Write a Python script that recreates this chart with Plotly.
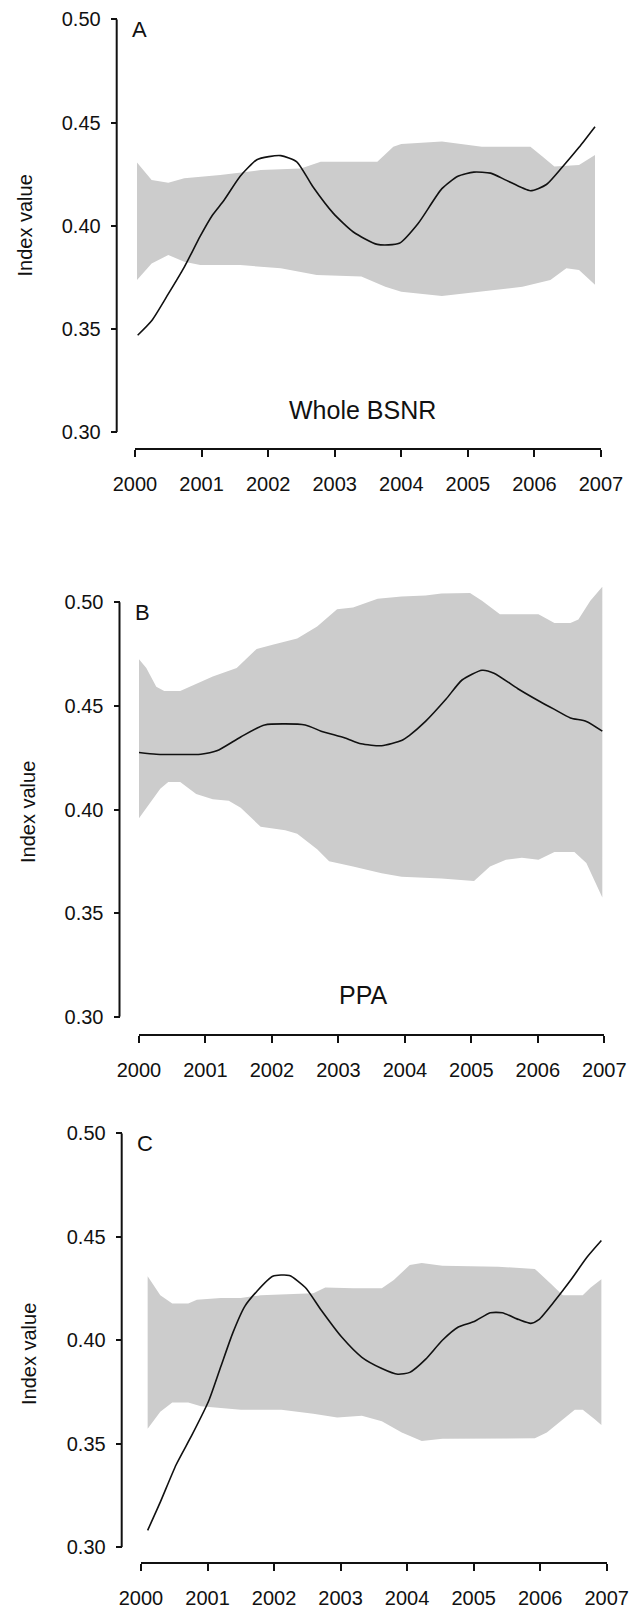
import plotly.graph_objects as go

W, H = 630, 1610

years = [2000, 2001, 2002, 2003, 2004, 2005, 2006, 2007]
year_labels = [str(y) for y in years]
yticks = [0.30, 0.35, 0.40, 0.45, 0.50]
ytick_labels = ["0.30", "0.35", "0.40", "0.45", "0.50"]

# ---- Panel A : Whole BSNR ----
a_line_x = [2000.04, 2000.25, 2000.50, 2000.74, 2000.98, 2001.16, 2001.34, 2001.58, 2001.83, 2002.01,
            2002.19, 2002.43, 2002.67, 2002.98, 2003.28, 2003.64, 2003.97, 2004.25, 2004.61, 2004.85,
            2005.09, 2005.34, 2005.58, 2005.94, 2006.18, 2006.42, 2006.67, 2006.91]
a_line_y = [0.347, 0.354, 0.367, 0.380, 0.395, 0.405, 0.4125, 0.424, 0.432, 0.4335,
            0.434, 0.431, 0.419, 0.406, 0.397, 0.391, 0.3915, 0.401, 0.418, 0.424,
            0.426, 0.4255, 0.422, 0.417, 0.420, 0.4285, 0.438, 0.448]
a_up_x = [2000.03, 2000.25, 2000.50, 2000.74, 2001.28, 2001.89, 2002.49, 2002.79, 2003.64, 2003.88,
          2004.00, 2004.61, 2005.21, 2005.94, 2006.12, 2006.30, 2006.67, 2006.91]
a_up_y = [0.4306, 0.4222, 0.4209, 0.423, 0.4246, 0.427, 0.4278, 0.431, 0.431, 0.4383,
          0.4396, 0.4408, 0.4383, 0.4383, 0.4335, 0.4287, 0.4295, 0.4343]
a_lo_x = [2000.03, 2000.25, 2000.50, 2000.74, 2000.98, 2001.58, 2002.19, 2002.73, 2003.40, 2003.76,
          2004.00, 2004.61, 2005.21, 2005.82, 2006.24, 2006.48, 2006.67, 2006.91]
a_lo_y = [0.3738, 0.3818, 0.3859, 0.3826, 0.381, 0.381, 0.3794, 0.3762, 0.3754, 0.3705,
          0.3681, 0.366, 0.3681, 0.3705, 0.3738, 0.3794, 0.3786, 0.3714]

# ---- Panel B : PPA ----
b_line_x = [2000.00, 2000.26, 2000.93, 2001.17, 2001.53, 2001.89, 2002.50, 2002.74, 2003.10, 2003.34,
            2003.65, 2003.95, 2004.07, 2004.31, 2004.62, 2004.86, 2005.16, 2005.34, 2005.70, 2006.01,
            2006.25, 2006.49, 2006.73, 2006.97]
b_line_y = [0.4275, 0.4267, 0.4267, 0.4283, 0.435, 0.4408, 0.4408, 0.4378, 0.4345, 0.4317,
            0.4308, 0.4333, 0.4358, 0.4425, 0.4533, 0.4625, 0.4672, 0.4658, 0.4583, 0.4525,
            0.4483, 0.4442, 0.4425, 0.4378]
b_up_x = [2000.00, 2000.11, 2000.26, 2000.38, 2000.62, 2000.93, 2001.11, 2001.47, 2001.77, 2002.01,
          2002.38, 2002.68, 2002.98, 2003.22, 2003.59, 2003.95, 2004.31, 2004.55, 2004.98, 2005.16,
          2005.43, 2006.01, 2006.25, 2006.49, 2006.61, 2006.79, 2006.97]
b_up_y = [0.4725, 0.4683, 0.4592, 0.4572, 0.4572, 0.4617, 0.4642, 0.4683, 0.4775, 0.4795,
          0.4825, 0.4883, 0.4967, 0.4975, 0.5017, 0.5028, 0.5033, 0.5042, 0.5045, 0.5008,
          0.4942, 0.4942, 0.49, 0.49, 0.4917, 0.5008, 0.5075]
b_lo_x = [2000.00, 2000.14, 2000.32, 2000.44, 2000.62, 2000.86, 2001.11, 2001.35, 2001.53, 2001.83,
          2002.20, 2002.38, 2002.68, 2002.86, 2003.22, 2003.65, 2003.95, 2004.55, 2005.04, 2005.28,
          2005.52, 2005.76, 2006.01, 2006.25, 2006.55, 2006.73, 2006.97]
b_lo_y = [0.3958, 0.4017, 0.41, 0.4133, 0.4133, 0.4075, 0.405, 0.4042, 0.4008, 0.3917,
          0.39, 0.3883, 0.3808, 0.375, 0.3725, 0.3692, 0.3675, 0.3667, 0.3655, 0.3725,
          0.3758, 0.3767, 0.3758, 0.3795, 0.3795, 0.3742, 0.3575]

# ---- Panel C ----
c_line_x = [2000.10, 2000.29, 2000.53, 2000.77, 2001.02, 2001.20, 2001.38, 2001.56, 2001.74, 2001.98,
            2002.23, 2002.47, 2002.71, 2003.01, 2003.32, 2003.62, 2003.86, 2004.04, 2004.28, 2004.53,
            2004.77, 2005.01, 2005.25, 2005.43, 2005.68, 2005.86, 2005.98, 2006.22, 2006.46, 2006.70,
            2006.92]
c_line_y = [0.3082, 0.3218, 0.34, 0.3545, 0.3709, 0.3873, 0.4036, 0.4164, 0.4236, 0.4309,
            0.4313, 0.4255, 0.4145, 0.4018, 0.3918, 0.3864, 0.3836, 0.3845, 0.3909, 0.40,
            0.4064, 0.4091, 0.4133, 0.4133, 0.41, 0.4082, 0.41, 0.4191, 0.4291, 0.44,
            0.4482]
c_up_x = [2000.10, 2000.29, 2000.47, 2000.71, 2000.84, 2001.20, 2001.50, 2001.80, 2002.59, 2002.77,
          2003.19, 2003.62, 2003.80, 2004.04, 2004.22, 2004.53, 2005.37, 2005.92, 2006.16, 2006.34,
          2006.64, 2006.76, 2006.92]
c_up_y = [0.4309, 0.4218, 0.4178, 0.4178, 0.4196, 0.4204, 0.4204, 0.4218, 0.4227, 0.4255,
          0.4251, 0.4251, 0.4291, 0.4364, 0.4373, 0.436, 0.4355, 0.4345, 0.4273, 0.4218,
          0.4218, 0.4255, 0.4295]
c_lo_x = [2000.10, 2000.29, 2000.47, 2000.71, 2000.90, 2001.50, 2002.11, 2002.59, 2002.95, 2003.32,
          2003.62, 2003.92, 2004.22, 2004.53, 2005.13, 2005.92, 2006.10, 2006.34, 2006.52, 2006.64,
          2006.82, 2006.92]
c_lo_y = [0.3573, 0.3655, 0.37, 0.37, 0.3682, 0.3664, 0.3664, 0.3645, 0.3627, 0.3636,
          0.3609, 0.3555, 0.3513, 0.3524, 0.3524, 0.3527, 0.3555, 0.3618, 0.3664, 0.3664,
          0.3618, 0.3591]

panel_letters = ["A", "B", "C"]
panel_names = ["Whole BSNR", "PPA", ""]

FONT = "Arial, 'Liberation Sans', sans-serif"
BAND = "#cccccc"
INK = "#111111"


def px(x):
    return x / W


def py(y):
    return 1 - y / H


# layout geometry (pixels)
panels = [
    dict(x2000=135.0, x2007=601.0, xline=449.3, yaxis_x=116.7, y50=19.3, y30=432.3, ytop=0.50),
    dict(x2000=139.0, x2007=604.3, xline=1035.0, yaxis_x=119.5, y50=602.3, y30=1016.7, ytop=0.51),
    dict(x2000=141.0, x2007=606.7, xline=1563.3, yaxis_x=121.7, y50=1133.3, y30=1547.3, ytop=0.50),
]

data = [
    (a_line_x, a_line_y, a_up_x, a_up_y, a_lo_x, a_lo_y),
    (b_line_x, b_line_y, b_up_x, b_up_y, b_lo_x, b_lo_y),
    (c_line_x, c_line_y, c_up_x, c_up_y, c_lo_x, c_lo_y),
]

fig = go.Figure()
layout = dict(
    width=W, height=H, margin=dict(l=0, r=0, t=0, b=0, autoexpand=False),
    paper_bgcolor="white", plot_bgcolor="white", showlegend=False,
    font=dict(family=FONT, color=INK),
)
shapes = []
annotations = []

for i, (g, d) in enumerate(zip(panels, data)):
    n = "" if i == 0 else str(i + 1)
    xa, ya = "x" + n, "y" + n
    lx, ly, ux, uy, dx, dy = d
    fig.add_trace(go.Scatter(
        x=ux + dx[::-1], y=uy + dy[::-1], fill="toself", fillcolor=BAND,
        mode="lines", line=dict(width=0, color=BAND), hoverinfo="skip",
        xaxis=xa, yaxis=ya))
    fig.add_trace(go.Scatter(
        x=lx, y=ly, mode="lines", line=dict(color=INK, width=1.6, shape="spline", smoothing=0.6),
        xaxis=xa, yaxis=ya))

    per = (g["y30"] - g["y50"]) / 0.2
    ytop_px = g["y50"] - (g["ytop"] - 0.50) * per
    layout["xaxis" + n] = dict(
        domain=[px(g["x2000"]), px(g["x2007"])], range=[2000, 2007],
        anchor="free", position=py(g["xline"]), automargin=False,
        tickvals=years, ticktext=year_labels, ticks="outside", ticklen=7, tickwidth=2,
        tickcolor=INK, showline=True, linewidth=2, linecolor=INK, showgrid=False,
        zeroline=False, tickfont=dict(size=20, family=FONT, color=INK),
        ticklabelstandoff=10,
    )
    layout["yaxis" + n] = dict(
        domain=[py(g["y30"]), py(ytop_px)], range=[0.30, g["ytop"]],
        anchor="free", position=px(g["yaxis_x"]), automargin=False,
        tickvals=yticks, ticktext=ytick_labels, ticks="outside", ticklen=6, tickwidth=2,
        tickcolor=INK, showline=False, showgrid=False, zeroline=False,
        tickfont=dict(size=20, family=FONT, color=INK), ticklabelstandoff=6,
    )
    shapes.append(dict(type="line", xref="paper", yref=ya,
                       x0=px(g["yaxis_x"]), x1=px(g["yaxis_x"]), y0=0.30, y1=0.50,
                       line=dict(color=INK, width=2)))
    annotations.append(dict(text=panel_letters[i], xref="paper", yref="paper",
                            x=px(g["yaxis_x"] + 23), y=py(g["y50"] + 10.5),
                            xanchor="center", yanchor="middle", showarrow=False,
                            font=dict(size=22, family=FONT, color=INK)))
    annotations.append(dict(text="Index value", xref="paper", yref="paper",
                            x=px(g["yaxis_x"] - 92), y=py((g["y50"] + g["y30"]) / 2 + [0, 3, 14][i]),
                            xanchor="center", yanchor="middle", showarrow=False, textangle=-90,
                            font=dict(size=20, family=FONT, color=INK)))
    if panel_names[i]:
        annotations.append(dict(text=panel_names[i], xref="paper", yref="paper",
                                x=px(363), y=py(g["y30"] - 22),
                                xanchor="center", yanchor="middle", showarrow=False,
                                font=dict(size=25, family=FONT, color=INK)))

layout["shapes"] = shapes
layout["annotations"] = annotations
fig.update_layout(**layout)
fig.write_html("out.html", config={"displayModeBar": False},
               post_script="document.body.style.margin='0px';document.body.style.overflow='hidden';")
